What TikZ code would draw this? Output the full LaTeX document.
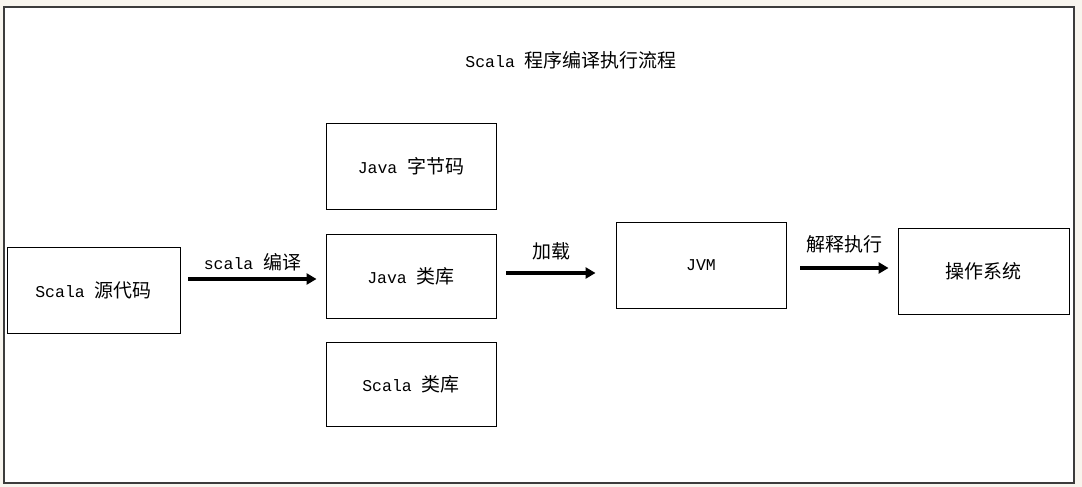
\documentclass[tikz,border=0pt]{standalone}
\usepackage{fontspec}
\setmainfont{Liberation Mono}
\newfontfamily\cjk[Scale=1.15]{Noto Sans CJK SC}
\newcommand{\zh}[1]{{\cjk #1}}
\usetikzlibrary{arrows.meta}
\definecolor{pagebg}{RGB}{248,245,238}
\definecolor{framegray}{RGB}{60,60,60}
\tikzset{
	box/.style={draw, line width=0.9pt, minimum width=170pt, minimum height=85pt, inner sep=0pt},
	flow/.style={line width=3.5pt, -{Triangle[length=10pt,width=11pt]}},
}
\begin{document}
\begin{tikzpicture}[x=1pt, y=-1pt, font=\fontsize{16.5}{20}\selectfont]
		\fill[pagebg] (0,0) rectangle (1082,487);
		\useasboundingbox (0,0) rectangle (1082,487);
		\draw[framegray, line width=1.6pt, fill=white] (4,7) rectangle (1074,483);
		% title
		\node (title) at (571,60) {Scala \zh{程序编译执行流程}};
		% boxes
		\node[box, minimum width=173pt, minimum height=86pt] (src) at (93.5,290) {Scala \zh{源代码}};
		\node[box, minimum height=86pt] (jbyte) at (411,166) {Java \zh{字节码}};
		\node[box, minimum height=84pt] (jlib) at (411,276) {Java \zh{类库}};
		\node[box, minimum height=84pt] (slib) at (411,384) {Scala \zh{类库}};
		\node[box, minimum height=86pt] (jvm) at (701,265) {JVM};
		\node[box, minimum width=171pt, minimum height=86pt] (os) at (983.5,271) {\zh{操作系统}};
		% arrows
		\draw[flow] ([xshift=8pt]src.east |- 0,279) -- ([xshift=-9pt]jlib.west |- 0,279)
			node[midway, above, yshift=3pt] {scala \zh{编译}};
		\draw[flow] ([xshift=10pt]jlib.east |- 0,273) -- ([xshift=-20pt]jvm.west |- 0,273)
			node[midway, above, yshift=8pt] {\zh{加载}};
		\draw[flow] ([xshift=14pt]jvm.east |- 0,268) -- ([xshift=-9pt]os.west |- 0,268)
			node[midway, above, yshift=10pt] {\zh{解释执行}};
	\end{tikzpicture}
\end{document}
